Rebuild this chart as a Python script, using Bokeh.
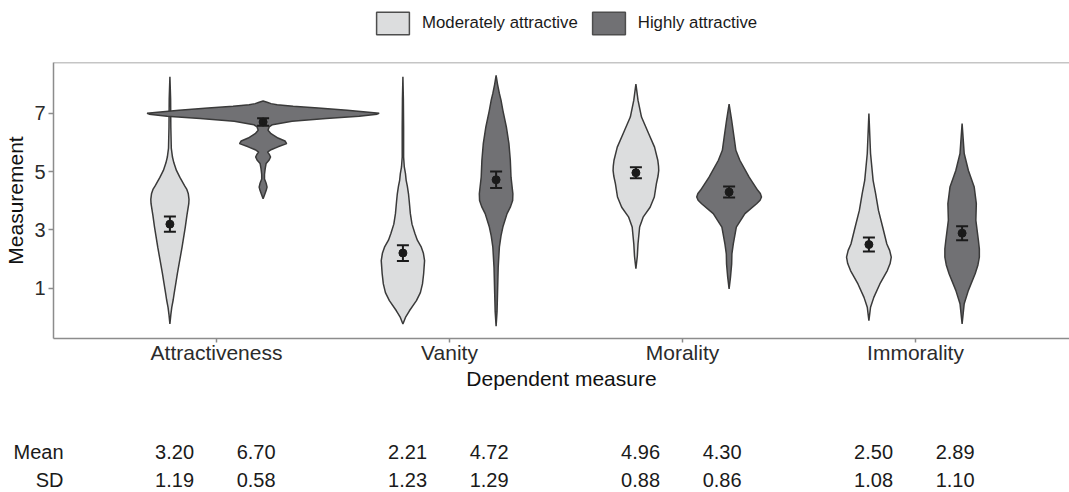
import numpy as np
from bokeh.plotting import figure
from bokeh.models import (ColumnDataSource, Range1d, FixedTicker, Legend, LegendItem,
                          Span, Whisker, TeeHead)
from bokeh.layouts import column
from bokeh.core.properties import value
from bokeh.embed import file_html
from bokeh.resources import INLINE

# ---------------- data ----------------
categories = ["Attractiveness", "Vanity", "Morality", "Immorality"]
groups = ["Moderately attractive", "Highly attractive"]
table_rows = ["Mean", "SD"]

mean_moderate = [3.20, 2.21, 4.96, 2.50]
mean_high = [6.70, 4.72, 4.30, 2.89]
sd_moderate = [1.19, 1.23, 0.88, 1.08]
sd_high = [0.58, 1.29, 0.86, 1.10]
ci_low_moderate = [2.94, 1.94, 4.77, 2.26]
ci_up_moderate = [3.46, 2.48, 5.15, 2.74]
ci_low_high = [6.57, 4.44, 4.11, 2.65]
ci_up_high = [6.83, 5.00, 4.49, 3.13]

# violin outlines: measurement levels and half-widths (x-axis units)
attr_mod_y = [-0.22, 0.1, 0.35, 0.6, 0.81, 1.2, 1.5, 2.0, 2.4, 3.1, 3.5, 3.9, 4.05, 4.24, 4.4, 4.5, 4.8, 5.04, 5.3, 5.5, 5.8, 6.5, 7.5, 8.25]
attr_mod_w = [0, .004, .008, .014, .018, .026, .032, .043, .052, .066, .073, .081, .082, .079, .072, .064, .043, .028, .017, .011, .006, .004, .003, 0]
attr_high_y = [4.07, 4.2, 4.35, 4.47, 4.6, 4.75, 4.9, 5.1, 5.28, 5.4, 5.5, 5.6, 5.67, 5.75, 5.85, 5.96, 6.05, 6.15, 6.3, 6.42, 6.53, 6.61, 6.73, 6.82, 6.9, 6.97, 7.0, 7.03, 7.1, 7.18, 7.24, 7.29, 7.33, 7.38, 7.42]
attr_high_w = [0, .006, .013, .017, .013, .006, .006, .009, .013, .026, .032, .026, .019, .034, .064, .101, .094, .064, .034, .021, .026, .04, .124, .27, .412, .489, .498, .464, .361, .236, .129, .06, .034, .017, 0]
van_mod_y = [-0.22, 0.0, 0.23, 0.58, 0.85, 1.15, 1.5, 1.95, 2.2, 2.41, 2.65, 2.87, 3.2, 3.56, 4.0, 4.24, 4.5, 4.7, 4.93, 5.16, 5.5, 6.5, 7.5, 8.25]
van_mod_w = [0, .011, .028, .058, .075, .084, .089, .093, .088, .079, .062, .052, .039, .032, .027, .024, .019, .014, .011, .006, .003, .003, .002, 0]
van_high_y = [-0.3, 0.2, 0.81, 1.72, 2.41, 2.8, 3.1, 3.56, 3.8, 4.01, 4.24, 4.81, 5.39, 5.96, 6.53, 7.1, 7.45, 7.68, 8.0, 8.3]
van_high_w = [0, .004, .006, .009, .014, .021, .029, .047, .062, .071, .072, .064, .061, .055, .044, .029, .021, .014, .006, 0]
mor_mod_y = [1.67, 2.1, 2.52, 3.1, 3.44, 3.78, 4.13, 4.59, 4.85, 5.04, 5.2, 5.39, 5.84, 6.30, 6.87, 7.45, 8.0]
mor_mod_w = [0, .006, .009, .016, .031, .061, .079, .088, .095, .098, .097, .094, .08, .055, .024, .009, 0]
mor_high_y = [0.98, 1.38, 1.84, 2.18, 2.52, 3.1, 3.56, 3.9, 4.02, 4.13, 4.25, 4.36, 4.81, 5.39, 5.73, 6.19, 6.76, 7.31]
mor_high_w = [0, .006, .011, .012, .018, .031, .068, .118, .133, .139, .134, .123, .086, .046, .029, .021, .011, 0]
imm_mod_y = [-0.11, 0.35, 0.69, 1.15, 1.61, 1.85, 2.07, 2.3, 2.52, 3.1, 3.67, 4.24, 4.70, 5.62, 6.99]
imm_mod_w = [0, .007, .021, .047, .079, .091, .096, .089, .077, .059, .041, .029, .018, .007, 0]
imm_high_y = [-0.22, 0.47, 0.93, 1.5, 1.8, 2.07, 2.35, 2.64, 3.33, 3.9, 4.47, 5.04, 5.62, 6.65]
imm_high_w = [0, .009, .027, .056, .068, .074, .074, .07, .059, .061, .052, .027, .009, 0]

violins_moderate = [(attr_mod_y, attr_mod_w), (van_mod_y, van_mod_w), (mor_mod_y, mor_mod_w), (imm_mod_y, imm_mod_w)]
violins_high = [(attr_high_y, attr_high_w), (van_high_y, van_high_w), (mor_high_y, mor_high_w), (imm_high_y, imm_high_w)]

# ---------------- style ----------------
FONT = "Liberation Sans"
LIGHT = "#dcddde"
DARK = "#717174"
EDGE = "#3a3a3a"
FRAME = "#8c8c8c"
INK = "#1a1a1a"
DODGE = 0.2
W = 1069
PX_PER_UNIT = 233.0
X0 = 0.3004

cat_x = np.arange(1, len(categories) + 1)
x_range = Range1d(X0, X0 + (W - 53) / PX_PER_UNIT)


def outline(center, ys, ws):
    ys = np.asarray(ys, float)
    ws = np.asarray(ws, float)
    xs = np.concatenate([center - ws, (center + ws)[::-1]])
    yy = np.concatenate([ys, ys[::-1]])
    return list(xs), list(yy)


# ---------------- legend strip ----------------
lg = figure(width=W, height=50, x_range=Range1d(0, 1), y_range=Range1d(0, 1),
            x_axis_type=None, y_axis_type=None, output_backend="svg", toolbar_location=None,
            min_border_left=53, min_border_right=0, min_border_top=0, min_border_bottom=0)
lg.outline_line_color = None
lg.grid.visible = False
# key swatches (shapes kept outside the visible range; only their legend glyphs show)
key_mod = lg.patches(xs=[[5, 6, 6]], ys=[[5, 5, 6]], fill_color=LIGHT, line_color="#4d4d4d", line_width=1.5)
key_high = lg.patches(xs=[[5, 6, 6]], ys=[[5, 5, 6]], fill_color=DARK, line_color="#4d4d4d", line_width=1.5)
legend = Legend(items=[LegendItem(label=groups[0], renderers=[key_mod]),
                       LegendItem(label=groups[1], renderers=[key_high])],
                orientation="horizontal", location=(319, 13),
                glyph_width=41, glyph_height=28, label_standoff=9, spacing=10,
                padding=0, margin=0, border_line_color=None, background_fill_alpha=0,
                label_text_font=FONT, label_text_font_size="16.8px", label_text_color="#1a1a1a",
                label_height=28)
lg.add_layout(legend)

# ---------------- main plot ----------------
p = figure(width=W, height=360, x_range=x_range, y_range=Range1d(-0.72, 8.74),
           output_backend="svg", toolbar_location=None,
           min_border_left=53, min_border_right=0, min_border_top=12, min_border_bottom=72)
p.outline_line_color = None
p.grid.visible = False

for offs, violins, fill in [(-DODGE, violins_moderate, LIGHT), (DODGE, violins_high, DARK)]:
    xs, ys = [], []
    for cx, (vy, vw) in zip(cat_x, violins):
        a, b = outline(cx + offs, vy, vw)
        xs.append(a)
        ys.append(b)
    p.patches(xs=xs, ys=ys, fill_color=fill, line_color=EDGE, line_width=1.5)

# error bars (95% CI) and means
for offs, m, lo, up in [(-DODGE, mean_moderate, ci_low_moderate, ci_up_moderate),
                        (DODGE, mean_high, ci_low_high, ci_up_high)]:
    src = ColumnDataSource(dict(x=cat_x + offs, m=m, lo=lo, up=up))
    w = Whisker(source=src, base="x", lower="lo", upper="up", dimension="height",
                level="overlay", line_color=INK, line_width=2,
                upper_head=TeeHead(size=12, line_color=INK, line_width=2),
                lower_head=TeeHead(size=12, line_color=INK, line_width=2))
    p.add_layout(w)
    p.scatter(x="x", y="m", source=src, size=8, color=INK)

# top frame line
p.add_layout(Span(location=8.74, dimension="width", line_color=FRAME, line_width=1.5))

# axes
p.xaxis.ticker = FixedTicker(ticks=list(cat_x))
p.xaxis.major_label_overrides = {int(i): c for i, c in zip(cat_x, categories)}
p.yaxis.ticker = FixedTicker(ticks=[1, 3, 5, 7])
for ax in (p.xaxis[0], p.yaxis[0]):
    ax.axis_line_color = FRAME
    ax.axis_line_width = 1.5
    ax.major_tick_line_color = FRAME
    ax.major_tick_line_width = 1.5
    ax.major_tick_in = 0
    ax.minor_tick_line_color = None
    ax.major_label_text_font = FONT
    ax.major_label_text_color = "#2b2b2b"
    ax.axis_label_text_font = FONT
    ax.axis_label_text_font_style = "normal"
    ax.axis_label_text_color = "#111111"
    ax.axis_label_text_font_size = "21px"
p.xaxis.major_tick_out = 4
p.yaxis.major_tick_out = 5
p.xaxis.major_label_text_font_size = "21px"
p.yaxis.major_label_text_font_size = "20px"
p.xaxis.axis_label = "Dependent measure"
p.yaxis.axis_label = "Measurement"
p.xaxis.major_label_standoff = -2
p.xaxis.axis_label_standoff = 0
p.yaxis.major_label_standoff = 3
p.yaxis.axis_label_standoff = 4

# ---------------- summary table ----------------
t = figure(width=W, height=82, x_range=x_range, y_range=Range1d(-0.464, 2.464),
           x_axis_type=None, output_backend="svg", toolbar_location=None,
           min_border_left=53, min_border_right=0, min_border_top=0, min_border_bottom=0)
t.outline_line_color = None
t.grid.visible = False
row_pos = {table_rows[0]: 1, table_rows[1]: 0}
ty_axis = t.yaxis[0]
ty_axis.ticker = FixedTicker(ticks=[row_pos[r] for r in table_rows])
ty_axis.major_label_overrides = {row_pos[r]: r for r in table_rows}
ty_axis.axis_line_color = None
ty_axis.major_tick_line_color = None
ty_axis.minor_tick_line_color = None
ty_axis.major_tick_out = 0
ty_axis.major_tick_in = 0
ty_axis.major_label_standoff = -10
ty_axis.major_label_text_font = FONT
ty_axis.major_label_text_font_size = "20px"
ty_axis.major_label_text_color = "#1a1a1a"

col_offsets = [-0.18, 0.17]
tx, ty, tt = [], [], []
for row, vals_mod, vals_high in [(table_rows[0], mean_moderate, mean_high),
                                 (table_rows[1], sd_moderate, sd_high)]:
    for cx, a, b in zip(cat_x, vals_mod, vals_high):
        tx += [cx + col_offsets[0], cx + col_offsets[1]]
        ty += [row_pos[row], row_pos[row]]
        tt += [f"{a:.2f}", f"{b:.2f}"]
t.text(x=tx, y=ty, text=tt, text_align="center", text_baseline="middle",
       text_font=value(FONT), text_font_size="20px", text_color="#1a1a1a")

layout = column(lg, p, t, spacing=0)
open("out.html", "w").write(file_html(layout, INLINE))
